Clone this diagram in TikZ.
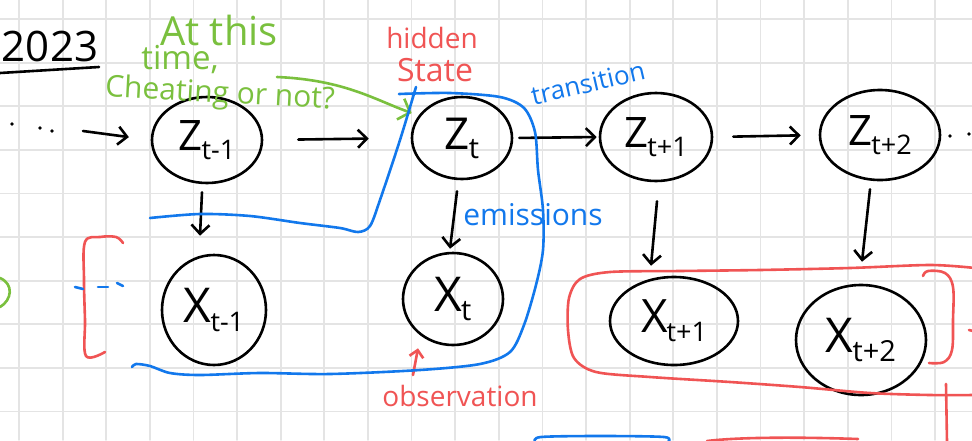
\documentclass[tikz,border=0pt]{standalone}
\usepackage{fontspec}
\setmainfont{Open Sans}
\usetikzlibrary{shapes.geometric,arrows.meta}
\definecolor{gridc}{RGB}{228,228,228}
\definecolor{hgreen}{RGB}{122,192,62}
\definecolor{hblue}{RGB}{18,120,236}
\definecolor{hred}{RGB}{240,84,84}
\newcommand{\nlab}[4]{{\fontsize{#3}{#3}\selectfont #1}\kern-1pt\raisebox{-9pt}{\fontsize{#4}{#4}\selectfont #2}}
\begin{document}
\begin{tikzpicture}[x=1pt,y=-1pt,line cap=round,line join=round,
  rv/.style={ellipse,draw,line width=2.6pt,inner sep=0pt},
  arr/.style={line width=2.6pt,-{Straight Barb[length=9pt,width=18pt]}},
  garr/.style={hgreen,line width=2.6pt,-{Straight Barb[length=10pt,width=22pt]}},
  rarr/.style={hred,line width=2.6pt,-{Straight Barb[length=7pt,width=14pt]}},
  bpen/.style={hblue,line width=2.6pt},
  rpen/.style={hred,line width=2.6pt},
  gpen/.style={hgreen,line width=2.6pt},
  gtext/.style={text=hgreen,inner sep=0pt},
  rtext/.style={text=hred,inner sep=0pt},
  btext/.style={text=hblue,inner sep=0pt}]
\useasboundingbox (0,0) rectangle (972,440);
\fill[white] (0,0) rectangle (972,440);
% grid
\begin{scope}
\clip (0,0) rectangle (972,440);
\foreach \i in {0,...,22} \draw[gridc,line width=1.8pt] (19+43.62*\i,0) -- (19+43.62*\i,440);
\foreach \j in {0,...,9} \draw[gridc,line width=1.8pt] (0,19+43.62*\j) -- (972,19+43.62*\j);
\end{scope}

% year
\node[inner sep=0pt,font=\fontsize{42}{42}\selectfont] (yr) at (50,46) {2023};
\draw[line width=2.6pt] (0,73) -- (99,67);

% hidden state nodes
\node[rv,minimum width=110pt,minimum height=86pt] (zA) at (207,140) {\nlab{Z}{t-1}{42}{27}};
\node[rv,minimum width=100pt,minimum height=82pt] (zB) at (462,138) {\nlab{Z}{t}{44}{29}};
\node[rv,minimum width=112pt,minimum height=88pt] (zC) at (656,137) {\nlab{Z}{t+1}{42}{27}};
\node[rv,minimum width=120pt,minimum height=90pt] (zD) at (880,135) {\nlab{Z}{t+2}{42}{27}};
% observations
\node[rv,minimum width=104pt,minimum height=110pt] (xA) at (214,310) {\nlab{X}{t-1}{48}{27}};
\node[rv,minimum width=100pt,minimum height=92pt] (xB) at (453,299) {\nlab{X}{t}{48}{29}};
\node[rv,minimum width=128pt,minimum height=88pt] (xC) at (674,321) {\nlab{X}{t+1}{46}{27}};
\node[rv,minimum width=130pt,minimum height=110pt] (xD) at (861,340) {\nlab{X}{t+2}{48}{29}};

% dots
\foreach \p in {(12,124),(40,128),(52,131),(950,136),(969,134)} \fill \p circle (1.8);
\coordinate (dl) at (83,131);
\draw[arr,shorten >=22pt] (dl) -- (zA.west);
\draw[arr,shorten <=35pt,shorten >=42pt] (zA.east) -- (zB.west);
\draw[arr,shorten <=6pt,shorten >=2pt] (zB.east) -- (zC.west);
\draw[arr,shorten <=20pt,shorten >=18pt] (zC.east) -- (zD.west);
\draw[arr] ([shift={(-5,8)}]zA.south) -- ([shift={(-14,-18)}]xA.north);
\draw[arr] ([shift={(-5,11)}]zB.south) -- ([shift={(-3,-3)}]xB.north);
\draw[arr] ([shift={(1,19)}]zC.south) -- ([shift={(-23,-10)}]xC.north);
\draw[arr] ([shift={(-10,8)}]zD.south) -- ([shift={(1,-22)}]xD.north);

% green annotation
\node[gtext,font=\fontsize{40}{40}\selectfont] (g1) at (219,30) {At this};
\node[gtext,font=\fontsize{33}{33}\selectfont] (g2) at (180,60) {time,};
\node[gtext,font=\fontsize{30}{30}\selectfont,rotate=-3] (g3) at (220,95) {Cheating or not?};
\coordinate (gs) at (277,77);
\draw[garr] (gs) .. controls (345,80) and (375,100) .. ([shift={(1,-25)}]zB.west);
\draw[gpen] (0,278) .. controls (14,284) and (12,300) .. (0,307);

% red annotations
\node[rtext,font=\fontsize{28}{28}\selectfont] (hid) at (432,38) {hidden};
\node[rtext,font=\fontsize{32}{32}\selectfont] (st) at (435,70) {State};
\node[rtext,font=\fontsize{28}{28}\selectfont] (obs) at (460,396) {observation};
\draw[rarr] ([shift={(-47,-10)}]obs.north) -- ([shift={(-35,2)}]xB.south);
\draw[rpen] plot[smooth,tension=0.6] coordinates {(123,243) (116,237) (100,237) (85,242) (84,280) (85,320) (86,356) (105,352)};
\draw[rpen] plot[smooth,tension=0.6] coordinates {(923,276) (928,271) (945,273) (953,287) (953,320) (952,350) (944,362) (929,363)};
\draw[rpen] plot[smooth,tension=0.5] coordinates {(975,268) (930,265) (850,268) (760,270) (680,271) (610,272) (580,279) (569,298) (568,330) (574,358) (596,372) (650,377) (730,382) (800,387) (870,393) (930,395) (975,395)};
\draw[rpen] (946,384) -- (947,442);
\draw[rpen] (969,330) -- (973,331);
\draw[rpen] (707,441) .. controls (740,437) and (800,437) .. (858,439);

% blue annotations
\node[btext,font=\fontsize{26}{26}\selectfont,rotate=13] (tr) at (588,83) {transition};
\node[btext,font=\fontsize{30}{30}\selectfont] (em) at (533,215) {emissions};
\draw[bpen] plot[smooth,tension=0.5] coordinates {(150,218) (200,214) (250,216) (300,223) (340,228) (358,232) (370,226) (380,200) (400,140) (416,87)};
\draw[bpen] plot[smooth,tension=0.5] coordinates {(399,94) (450,93) (500,97) (524,108) (535,132) (538,170) (543,210) (543,250) (536,285) (524,325) (510,352) (480,364) (420,370) (330,374) (260,373) (200,375) (170,373) (150,366) (136,364) (132,367)};
\draw[bpen] (75,287) -- (83,289);
\draw[bpen] (98,287) -- (108,287);
\draw[bpen] (117,283) -- (123,286);
\draw[bpen] plot[smooth,tension=0.5] coordinates {(535,442) (541,437) (600,436) (664,437) (668,442)};
\end{tikzpicture}
\end{document}
